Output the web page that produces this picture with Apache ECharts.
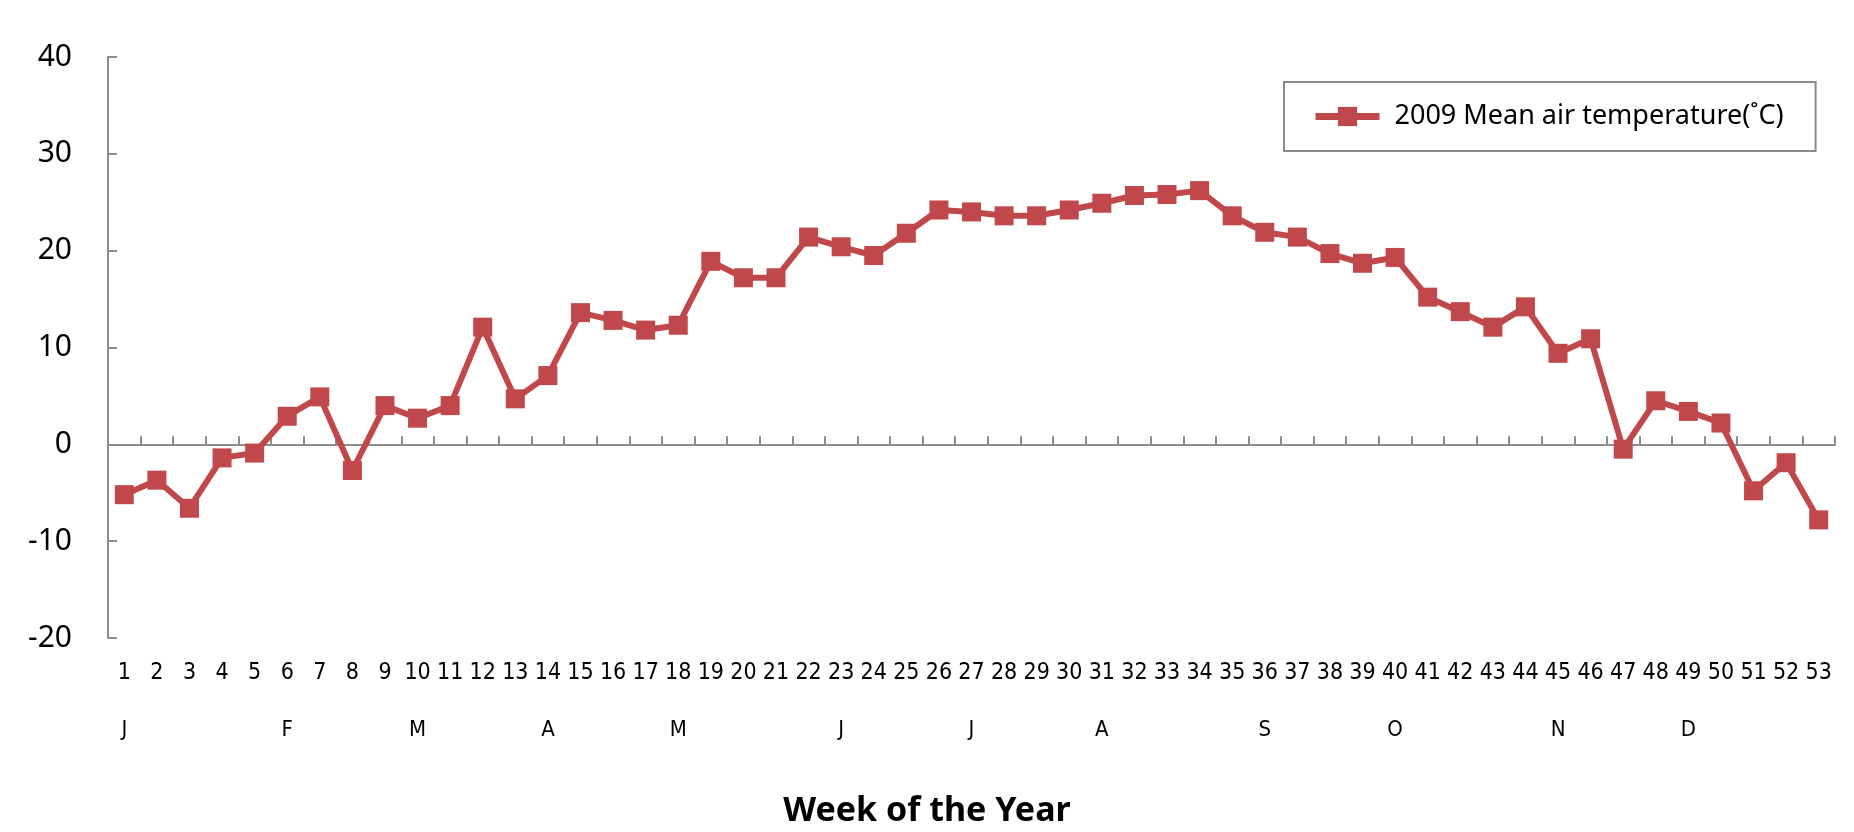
<!DOCTYPE html>
<html>
<head>
<meta charset="utf-8">
<style>
  html, body { margin: 0; padding: 0; background: #fff; }
  #chart { width: 1854px; height: 832px; }
</style>
<script src="https://cdn.jsdelivr.net/npm/echarts@6/dist/echarts.min.js"></script>
</head>
<body>
<div id="chart"></div>
<script>
const weeks = ['1','2','3','4','5','6','7','8','9','10','11','12','13','14','15','16','17','18','19','20','21','22','23','24','25','26','27','28','29','30','31','32','33','34','35','36','37','38','39','40','41','42','43','44','45','46','47','48','49','50','51','52','53'];
const months = ['J','','','','','F','','','','M','','','','A','','','','M','','','','','J','','','','J','','','','A','','','','','S','','','','O','','','','','N','','','','D','','','',''];
const temps = [-5.2, -3.7, -6.6, -1.4, -0.9, 2.9, 4.9, -2.7, 4.0, 2.7, 4.0, 12.1, 4.7, 7.1, 13.6,
  12.8, 11.8, 12.3, 18.9, 17.2, 17.2, 21.4, 20.4, 19.5, 21.8, 24.2, 24.0, 23.6, 23.6, 24.2,
  24.9, 25.7, 25.8, 26.2, 23.6, 21.9, 21.4, 19.7, 18.7, 19.3, 15.2, 13.7, 12.1, 14.2, 9.4,
  10.9, -0.5, 4.5, 3.4, 2.2, -4.8, -1.9, -7.8];
const yTicks = { min: -20, max: 40, interval: 10 };
const seriesName = '2009 Mean air temperature(˚C)';
const axisTitle = 'Week of the Year';

const axisGray = '#8c8c8c';
const red = '#c0474a';
const narrow = '"Liberation Sans Narrow", "DejaVu Sans Condensed", "Noto Sans", sans-serif';

const chart = echarts.init(document.getElementById('chart'));
chart.setOption({
  backgroundColor: '#fff',
  animation: false,
  title: {
    text: axisTitle,
    left: 'center',
    top: 789,
    textStyle: { fontFamily: '"Noto Sans", sans-serif', fontSize: 34, fontWeight: 'bold', color: '#000' }
  },
  legend: {
    left: 1284,
    top: 82,
    padding: [21, 32, 21, 28],
    borderColor: '#8a8a8a',
    borderWidth: 2,
    itemWidth: 64,
    itemHeight: 24,
    lineStyle: { width: 7, color: red },
    itemStyle: { color: red },
    textStyle: { fontFamily: '"Noto Sans", sans-serif', fontSize: 27, color: '#000', padding: [0, 0, 0, 10] },
    data: [seriesName]
  },
  grid: { left: 108, right: 19, top: 57, bottom: 194 },
  xAxis: [
    {
      type: 'category',
      data: weeks,
      boundaryGap: true,
      axisLine: { onZero: true, lineStyle: { color: axisGray, width: 2 } },
      axisTick: { show: true, inside: true, length: 8, interval: 0, lineStyle: { color: axisGray, width: 2 } },
      axisLabel: { show: false },
      splitLine: { show: false }
    },
    {
      type: 'category',
      data: weeks,
      position: 'bottom',
      boundaryGap: true,
      axisLine: { show: false, onZero: false },
      axisTick: { show: false },
      axisLabel: { interval: 0, margin: 24, fontFamily: narrow, fontSize: 23, color: '#000' },
      splitLine: { show: false }
    },
    {
      type: 'category',
      data: months,
      position: 'bottom',
      offset: 57,
      boundaryGap: true,
      axisLine: { show: false, onZero: false },
      axisTick: { show: false },
      axisLabel: { interval: 0, margin: 24, fontFamily: narrow, fontSize: 22, color: '#000' },
      splitLine: { show: false }
    }
  ],
  yAxis: {
    type: 'value',
    min: yTicks.min,
    max: yTicks.max,
    interval: yTicks.interval,
    axisLine: { show: true, onZero: false, lineStyle: { color: axisGray, width: 2 } },
    axisTick: { show: true, inside: true, length: 9, lineStyle: { color: axisGray, width: 2 } },
    axisLabel: { margin: 36, fontFamily: '"Noto Sans", sans-serif', fontSize: 30, color: '#000' },
    splitLine: { show: false }
  },
  series: [{
    name: seriesName,
    type: 'line',
    xAxisIndex: 0,
    data: temps,
    symbol: 'rect',
    symbolSize: 19,
    lineStyle: { color: red, width: 6 },
    itemStyle: { color: red }
  }]
});
</script>
</body>
</html>
